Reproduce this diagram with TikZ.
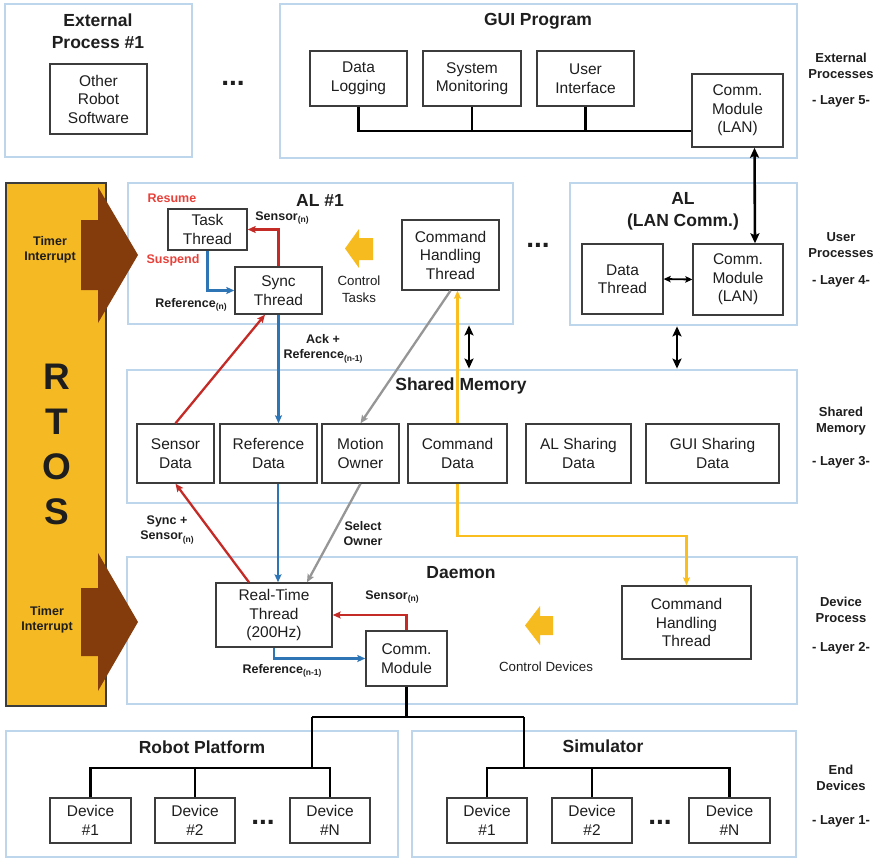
\documentclass[tikz,border=0pt]{standalone}
\usepackage{fontspec}
\setmainfont{Liberation Sans}
\usetikzlibrary{arrows.meta,calc}

\definecolor{panelblue}{RGB}{190,214,236}
\definecolor{boxgray}{RGB}{60,60,60}
\definecolor{ink}{RGB}{30,30,30}
\definecolor{flowred}{RGB}{196,43,38}
\definecolor{flowblue}{RGB}{46,117,182}
\definecolor{flowgray}{RGB}{150,150,150}
\definecolor{flowyellow}{RGB}{250,190,30}
\definecolor{blockyellow}{RGB}{246,187,30}
\definecolor{rtosfill}{RGB}{245,185,35}
\definecolor{rtosedge}{RGB}{60,60,60}
\definecolor{irqbrown}{RGB}{132,60,12}
\definecolor{tagred}{RGB}{232,65,58}

% font sizes (1pt = 1 unit of the drawing)
\newcommand\fBody{\fontsize{15.5}{18.5}\selectfont}
\newcommand\fTitle{\bfseries\fontsize{17.5}{21.5}\selectfont}
\newcommand\fLab{\bfseries\fontsize{12.5}{15.5}\selectfont}
\newcommand\fSide{\bfseries\fontsize{13}{16}\selectfont}
\newcommand\fNote{\fontsize{13.3}{17}\selectfont}
\newcommand\fRtos{\bfseries\fontsize{37}{45}\selectfont}
\newcommand\fDots{\bfseries\fontsize{28}{28}\selectfont}
\newcommand\lowsub[1]{\raisebox{-2.5pt}{\fontsize{8.5}{9}\selectfont #1}}

\tikzset{
  sz/.style 2 args={minimum width=#1, minimum height=#2},
  panel/.style={draw=panelblue, line width=2.8pt, inner sep=0pt},
  blk/.style={draw=boxgray, line width=1.4pt, fill=white, align=center,
              font=\fBody, text=ink, inner sep=0pt},
  title/.style={font=\fTitle, align=center, text=ink},
  lab/.style={font=\fLab, align=center, text=ink},
  tag/.style={font=\fLab, text=tagred},
  side/.style={font=\fSide, align=center, text=ink},
  note/.style={font=\fNote, align=center, text=ink},
  dots/.style={font=\fDots, text=ink, inner sep=0pt},
  smallhead/.style={-{Stealth[length=8pt,width=7pt,inset=1.5pt]}},
  redarr/.style={draw=flowred, line width=2.3pt, smallhead},
  bluearr/.style={draw=flowblue, line width=2.3pt, smallhead},
  grayarr/.style={draw=flowgray, line width=2.3pt, smallhead},
  yelarr/.style={draw=flowyellow, line width=2.3pt, smallhead},
  bigdbl/.style={draw=black, line width=2.6pt,
     {Stealth[length=10pt,width=9pt,inset=2pt]}-{Stealth[length=10pt,width=9pt,inset=2pt]}},
  thindbl/.style={draw=black, line width=1.8pt,
     {Stealth[length=7pt,width=6.5pt,inset=1.5pt]}-{Stealth[length=7pt,width=6.5pt,inset=1.5pt]}},
  bus/.style={draw=black, line width=2.4pt},
}

\begin{document}
\begin{tikzpicture}[x=1pt,y=-1pt]
\useasboundingbox (0,0) rectangle (879,859);

% ---------- layer panels ----------
\node[panel, sz={187}{153}] (ext)   at (98.5,80.5)  {};
\node[panel, sz={517}{154}] (gui)   at (538.5,81)   {};
\node[panel, sz={385}{141}] (al1)   at (320.5,253.5) {};
\node[panel, sz={227}{142}] (allan) at (683.5,254)  {};
\node[panel, sz={670}{133}] (shm)   at (462,436.5)  {};
\node[panel, sz={670}{147}] (dmn)   at (462,630.5)  {};
\node[panel, sz={392}{126}] (rp)    at (202,794)    {};
\node[panel, sz={384}{126}] (sim)   at (604,794)    {};

% ---------- panel titles ----------
\node[title] (extT)   at (98,31)    {External\\Process \#1};
\node[title] (guiT)   at (538,21)   {GUI Program};
\node[title] (al1T)   at (320,200)  {AL \#1};
\node[title] (allanT) at (683,211.5){AL\\(LAN Comm.)};
\node[title] (shmT)   at (461,386)  {Shared Memory};
\node[title] (dmnT)   at (461,573)  {Daemon};
\node[title] (rpT)    at (202,747)  {Robot Platform};
\node[title] (simT)   at (603,746)  {Simulator};

% ---------- layer captions ----------
\node[side] (c5a) at (841,66)  {External\\Processes};
\node[side] (c5b) at (841,101) {- Layer 5-};
\node[side] (c4a) at (841,245) {User\\Processes};
\node[side] (c4b) at (841,281) {- Layer 4-};
\node[side] (c3a) at (841,421.5) {Shared\\Memory};
\node[side] (c3b) at (841,462) {- Layer 3-};
\node[side] (c2a) at (841,609.5) {Device\\Process};
\node[side] (c2b) at (841,648) {- Layer 2-};
\node[side] (c1a) at (841,778) {End\\Devices};
\node[side] (c1b) at (841,821) {- Layer 1-};

% ---------- layer 5 ----------
\node[blk, sz={97}{70}] (ors)   at (98.5,99)   {Other\\Robot\\Software};
\node[dots] (dotsA) at (233,83) {...};
\node[blk, sz={97}{55}] (dlog)  at (358.5,78.5) {Data\\Logging};
\node[blk, sz={98}{55}] (smon)  at (472,78.5)   {System\\Monitoring};
\node[blk, sz={97}{55}] (uif)   at (585.5,78.5) {User\\Interface};
\node[blk, sz={91}{73}] (gcomm) at (737.5,110.5){Comm.\\Module\\(LAN)};

% ---------- layer 4 ----------
\node[blk, sz={79}{41}] (task)  at (207.5,229.5) {Task\\Thread};
\node[blk, sz={87}{47}] (sync)  at (278.5,290.5) {Sync\\Thread};
\node[blk, sz={97}{70}] (cht1)  at (450.5,255)   {Command\\Handling\\Thread};
\node[dots] (dotsB) at (538,245) {...};
\node[blk, sz={81}{70}] (dthr)  at (622.5,279)   {Data\\Thread};
\node[blk, sz={90}{71}] (lcomm) at (738,279.5)   {Comm.\\Module\\(LAN)};

\node[tag] (resume)  at (172,198) {Resume};
\node[tag] (suspend) at (173,260) {Suspend};
\node[lab] (lsens1)  at (282,218) {Sensor\lowsub{(n)}};
\node[lab] (lref1)   at (191,305) {Reference\lowsub{(n)}};
\node[note] (ctask)  at (359,289) {Control\\Tasks};

% ---------- layer 3 ----------
\node[blk, sz={77}{59}]  (sens)  at (175.5,453.5) {Sensor\\Data};
\node[blk, sz={97}{59}]  (refd)  at (268.5,453.5) {Reference\\Data};
\node[blk, sz={77}{59}]  (mown)  at (360.5,453.5) {Motion\\Owner};
\node[blk, sz={99}{59}]  (cmdd)  at (457.5,453.5) {Command\\Data};
\node[blk, sz={105}{59}] (alsd)  at (578.5,453.5) {AL Sharing\\Data};
\node[blk, sz={133}{59}] (guisd) at (712.5,453.5) {GUI Sharing\\Data};

\node[lab] (lack)   at (323,348.5) {Ack +\\Reference\lowsub{(n-1)}};
\node[lab] (lsync)  at (167,530)   {Sync +\\Sensor\lowsub{(n)}};
\node[lab] (lsel)   at (363,533.5) {Select\\Owner};

% ---------- layer 2 ----------
\node[blk, sz={116}{64}] (rtt)   at (274,615)     {Real-Time\\Thread\\(200Hz)};
\node[blk, sz={81}{55}]  (dcomm) at (406.5,658.5) {Comm.\\Module};
\node[blk, sz={129}{73}] (cht2)  at (686.5,622.5) {Command\\Handling\\Thread};

\node[lab] (lsens2) at (392,597) {Sensor\lowsub{(n)}};
\node[lab] (lref2)  at (282,671) {Reference\lowsub{(n-1)}};
\node[note] (cdev)  at (546,667) {Control Devices};

% ---------- layer 1 ----------
\node[blk, sz={81}{45}] (rd1) at (90.5,820.5)  {Device\\\#1};
\node[blk, sz={80}{45}] (rd2) at (195,820.5)   {Device\\\#2};
\node[dots] (dotsC) at (263,822) {...};
\node[blk, sz={80}{45}] (rdn) at (330,820.5)   {Device\\\#N};
\node[blk, sz={80}{45}] (sd1) at (487,820.5)   {Device\\\#1};
\node[blk, sz={80}{45}] (sd2) at (592,820.5)   {Device\\\#2};
\node[dots] (dotsD) at (660,822) {...};
\node[blk, sz={81}{45}] (sdn) at (729.5,820.5) {Device\\\#N};

% ---------- GUI bus ----------
\coordinate (gbus) at ([yshift=-20.5pt]gcomm.west);
\draw[bus] (dlog.south) |- (gbus);
\draw[bus] (smon.south) -- (smon.south |- gbus);
\draw[bus] (uif.south) -- (uif.south |- gbus);

% ---------- black links between layers ----------
\draw[bigdbl] ([xshift=17pt]gcomm.south) -- ([xshift=17pt]lcomm.north);
\draw[thindbl] (dthr.east) -- (lcomm.west);
\draw[bigdbl] ([xshift=148.5pt]al1.south) -- ([xshift=148.5pt]al1.south |- shm.north);
\draw[bigdbl] ([xshift=-6.5pt]allan.south) -- ([xshift=-6.5pt]allan.south |- shm.north);

% ---------- AL #1 internal flow ----------
\draw[redarr]  (sync.north) |- (task.east);
\draw[bluearr] (task.south) |- (sync.west);

% ---------- AL #1 <-> shared memory ----------
\draw[redarr]  (sens.north) -- ([xshift=-13.5pt]sync.south);
\draw[bluearr] (sync.south) -- (sync.south |- refd.north);
\draw[grayarr] (cht1.south) -- (mown.north);
\draw[yelarr]  (cmdd.north) -- (cmdd.north |- cht1.south);

% ---------- shared memory <-> daemon ----------
\draw[redarr]  ([xshift=-25pt]rtt.north) -- (sens.south);
\draw[bluearr] ([xshift=9.5pt]refd.south) -- ([xshift=9.5pt]refd.south |- rtt.north);
\draw[grayarr] (mown.south) -- ([xshift=33pt]rtt.north);
\draw[yelarr]  (cmdd.south) -- ++(0,52) -| (cht2.north);

% ---------- daemon internal flow ----------
\draw[redarr]  (dcomm.north) |- (rtt.east);
\draw[bluearr] (rtt.south) |- (dcomm.west);

% ---------- device tree ----------
\coordinate (jl) at (312,717);
\coordinate (jr) at (524,717);
\coordinate (rpb) at (312,768);
\coordinate (smb) at (524,768);
\draw[bus] (dcomm.south) -- (dcomm.south |- jl);
\draw[bus] (jl) -- (jr);
\draw[bus] (jl) -- (rpb);
\draw[bus] (jr) -- (smb);
\draw[bus] (rd1.north) |- (rpb) -| (rdn.north);
\draw[bus] (rd2.north) -- (rd2.north |- rpb);
\draw[bus] (sd1.north) |- (smb) -| (sdn.north);
\draw[bus] (sd2.north) -- (sd2.north |- smb);

% ---------- yellow control arrows ----------
\fill[blockyellow] (345,248.5) -- (359,229) -- (359,238) -- (373,238)
   -- (373,260) -- (359,260) -- (359,268) -- cycle;
\fill[blockyellow] (525,625.5) -- (540,606) -- (540,616) -- (553,616)
   -- (553,635) -- (540,635) -- (540,645) -- cycle;

% ---------- RTOS column with timer interrupts ----------
\node[draw=rtosedge, fill=rtosfill, line width=1.4pt, sz={100}{523}] (rtos) at (56,444.5) {};
\node[font=\fRtos, align=center, text=ink] (rtosT) at (57,444.5) {R\\T\\O\\S};
\fill[irqbrown] (81,220) -- (98,220) -- (98,187) -- (138,255) -- (98,323)
   -- (98,290) -- (81,290) -- cycle;
\fill[irqbrown] (81,588) -- (98,588) -- (98,553) -- (138,622) -- (98,691)
   -- (98,656) -- (81,656) -- cycle;
\node[lab, font=\bfseries\fontsize{12.5}{15}\selectfont] (irq1) at (50,249.5) {Timer\\Interrupt};
\node[lab, font=\bfseries\fontsize{12.5}{15}\selectfont] (irq2) at (47,620) {Timer\\Interrupt};

\end{tikzpicture}
\end{document}
